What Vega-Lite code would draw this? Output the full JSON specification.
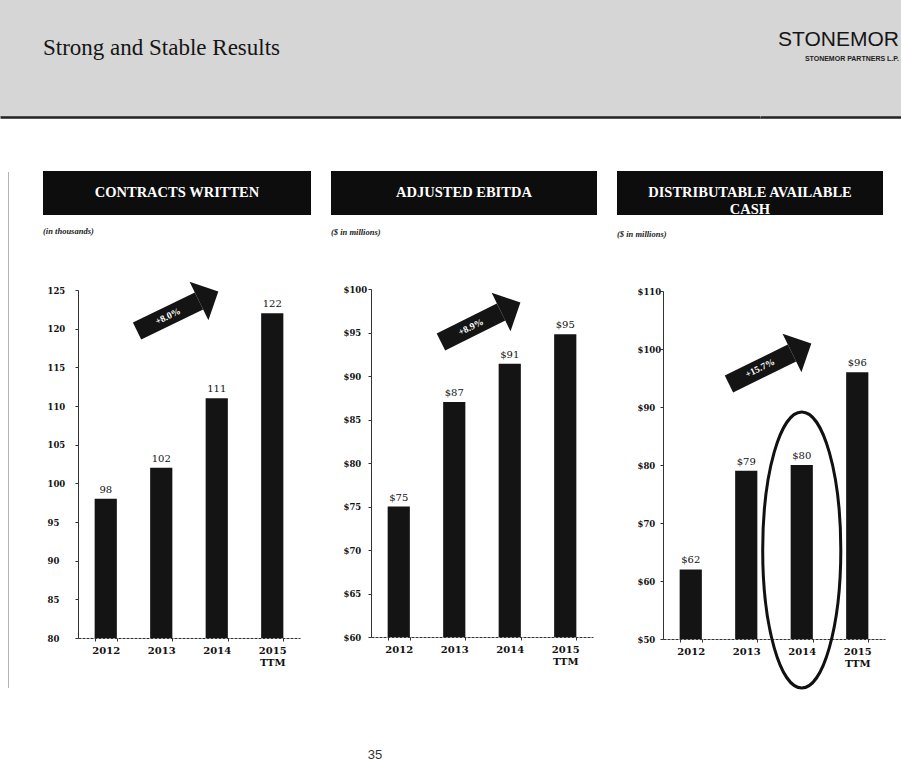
{
  "$schema": "https://vega.github.io/schema/vega-lite/v6.json",
  "padding": 0,
  "background": "white",
  "spacing": 54,
  "config": {
    "view": {"stroke": null},
    "axis": {"labelFont": "DejaVu Serif", "labelFontWeight": "bold", "labelColor": "#111", "domainColor": "#333", "tickColor": "#333", "tickSize": 3, "grid": false, "title": null, "labelOverlap": false},
    "axisX": {"labelFontSize": 10, "labelPadding": 4, "labelAngle": 0, "tickBand": "extent", "domainDash": [3, 1]},
    "axisY": {"labelFontSize": 8.5, "labelAlign": "left"},
    "title": {"font": "Liberation Serif", "color": "#111"}
  },
  "vconcat": [
    {
      "spacing": 0,
      "hconcat": [
        {
          "width": 760, "height": 117,
          "view": {"fill": "#d6d6d6", "stroke": null},
          "title": {"text": "Strong and Stable Results", "anchor": "start", "frame": "group", "dx": 43, "offset": -60, "fontSize": 23, "fontWeight": "normal", "font": "Liberation Serif", "color": "#151515"},
          "data": {"values": [{}]},
          "mark": {"type": "text"},
          "encoding": {
            "x": {"datum": 0, "type": "quantitative", "scale": {"domain": [0, 1]}, "axis": {"labels": false, "ticks": false, "domainWidth": 2.5, "domainColor": "#222", "domainDash": []}},
            "text": {"value": ""}
          }
        },
        {
          "width": 141, "height": 117,
          "view": {"fill": "#d6d6d6", "stroke": null},
          "title": {"text": "STONEMOR", "subtitle": "STONEMOR PARTNERS L.P.", "anchor": "end", "frame": "group", "dx": -2, "offset": -62, "fontSize": 21, "fontWeight": "normal", "font": "Liberation Sans", "color": "#151515", "subtitleFont": "Liberation Sans", "subtitleFontSize": 7, "subtitleFontWeight": "bold", "subtitleColor": "#222", "subtitlePadding": 5},
          "data": {"values": [{}]},
          "mark": {"type": "text"},
          "encoding": {
            "x": {"datum": 0, "type": "quantitative", "scale": {"domain": [0, 1]}, "axis": {"labels": false, "ticks": false, "domainWidth": 2.5, "domainColor": "#222", "domainDash": []}},
            "text": {"value": ""}
          }
        }
      ]
    },
    {
      "spacing": 20,
      "hconcat": [
        {
          "width": 23, "height": 516,
          "data": {"values": [{}]},
          "mark": {"type": "text"},
          "encoding": {
            "y": {"datum": 0, "type": "quantitative", "scale": {"domain": [0, 1]}, "axis": {"labels": false, "ticks": false, "offset": -8, "domainColor": "#666", "domainDash": [1, 1], "domainWidth": 1}},
            "text": {"value": ""}
          }
        },
        {
          "spacing": 12,
          "vconcat": [
            {
              "width": 268, "height": 44,
              "view": {"fill": "#0d0d0d", "stroke": null},
              "data": {"values": [{"label": "CONTRACTS WRITTEN"}]},
              "mark": {"type": "text", "color": "white", "font": "Liberation Serif", "fontWeight": "bold", "fontSize": 14.5},
              "encoding": {"text": {"field": "label"}}
            },
            {
              "width": 257, "height": 348,
              "title": {"text": "(in thousands)", "anchor": "start", "frame": "group", "offset": 46, "fontSize": 8.5, "fontStyle": "italic", "fontWeight": "bold", "color": "#222"},
              "data": {"values": [
                {"year": "2012", "value": 98},
                {"year": "2013", "value": 102},
                {"year": "2014", "value": 111},
                {"year": "2015 TTM", "value": 122}
              ]},
              "layer": [
                {
                  "mark": {"type": "bar", "color": "#141414"},
                  "encoding": {
                    "x": {"field": "year", "type": "nominal", "scale": {"domain": ["2012", "2013", "2014", "2015 TTM"], "range": [35, 257], "paddingInner": 0.6, "paddingOuter": 0.3}, "axis": {"labelExpr": "datum.value == '2015 TTM' ? ['2015', 'TTM'] : datum.value"}},
                    "y": {"field": "value", "type": "quantitative", "scale": {"domain": [80, 125], "nice": false, "zero": false}, "axis": {"values": [80, 85, 90, 95, 100, 105, 110, 115, 120, 125], "tickCount": 10, "format": "d", "labelPadding": 28, "offset": -35, "labelOverlap": false, "labelSeparation": 0, "labelBound": false}},
                    "y2": {"datum": 80}
                  }
                },
                {
                  "mark": {"type": "text", "baseline": "bottom", "dy": -4, "font": "DejaVu Serif", "fontSize": 10, "color": "#111"},
                  "encoding": {
                    "x": {"field": "year", "type": "nominal"},
                    "y": {"field": "value", "type": "quantitative"},
                    "text": {"field": "value", "type": "quantitative", "format": "d"}
                  }
                },
                {
                  "data": {"values": [{}]},
                  "mark": {"type": "rule", "color": "#141414", "strokeWidth": 19, "strokeCap": "butt"},
                  "encoding": {
                    "x": {"datum": "2013", "type": "nominal", "bandPosition": -0.59},
                    "y": {"datum": 119.7, "type": "quantitative"},
                    "x2": {"datum": "2014", "bandPosition": -0.3},
                    "y2": {"datum": 123.58}
                  }
                },
                {
                  "data": {"values": [{}]},
                  "mark": {"type": "point", "shape": "M1,0L0,-1L0,1Z", "size": 1849, "angle": 334, "filled": true, "opacity": 1, "color": "#141414"},
                  "encoding": {
                    "x": {"datum": "2014", "type": "nominal", "bandPosition": -0.3},
                    "y": {"datum": 123.58, "type": "quantitative"}
                  }
                },
                {
                  "data": {"values": [{}]},
                  "mark": {"type": "text", "angle": 334, "color": "white", "fontWeight": "bold", "fontSize": 9.5, "font": "Liberation Serif"},
                  "encoding": {
                    "x": {"datum": "2013", "type": "nominal", "bandPosition": 0.8},
                    "y": {"datum": 121.6, "type": "quantitative"},
                    "text": {"value": "+8.0%"}
                  }
                }
              ]
            }
          ]
        },
        {
          "spacing": 12,
          "vconcat": [
            {
              "width": 266, "height": 44,
              "view": {"fill": "#0d0d0d", "stroke": null},
              "data": {"values": [{"label": "ADJUSTED EBITDA"}]},
              "mark": {"type": "text", "color": "white", "font": "Liberation Serif", "fontWeight": "bold", "fontSize": 14.5},
              "encoding": {"text": {"field": "label"}}
            },
            {
              "width": 262, "height": 348,
              "title": {"text": "($ in millions)", "anchor": "start", "frame": "group", "offset": 49, "fontSize": 8.5, "fontStyle": "italic", "fontWeight": "bold", "color": "#222"},
              "data": {"values": [
                {"year": "2012", "value": 75},
                {"year": "2013", "value": 87},
                {"year": "2014", "value": 91.4},
                {"year": "2015 TTM", "value": 94.8}
              ]},
              "layer": [
                {
                  "mark": {"type": "bar", "color": "#141414"},
                  "encoding": {
                    "x": {"field": "year", "type": "nominal", "scale": {"domain": ["2012", "2013", "2014", "2015 TTM"], "range": [40, 262], "paddingInner": 0.6, "paddingOuter": 0.3}, "axis": {"labelExpr": "datum.value == '2015 TTM' ? ['2015', 'TTM'] : datum.value"}},
                    "y": {"field": "value", "type": "quantitative", "scale": {"domain": [60, 100], "nice": false, "zero": false}, "axis": {"values": [60, 65, 70, 75, 80, 85, 90, 95, 100], "format": "$d", "labelPadding": 25, "offset": -40, "labelOverlap": false}},
                    "y2": {"datum": 60}
                  }
                },
                {
                  "mark": {"type": "text", "baseline": "bottom", "dy": -4, "font": "DejaVu Serif", "fontSize": 10, "color": "#111"},
                  "encoding": {
                    "x": {"field": "year", "type": "nominal"},
                    "y": {"field": "value", "type": "quantitative"},
                    "text": {"field": "value", "type": "quantitative", "format": "$.0f"}
                  }
                },
                {
                  "data": {"values": [{}]},
                  "mark": {"type": "rule", "color": "#141414", "strokeWidth": 19, "strokeCap": "butt"},
                  "encoding": {
                    "x": {"datum": "2013", "type": "nominal", "bandPosition": -0.1},
                    "y": {"datum": 93.9, "type": "quantitative"},
                    "x2": {"datum": "2014", "bandPosition": 0.11},
                    "y2": {"datum": 97.36}
                  }
                },
                {
                  "data": {"values": [{}]},
                  "mark": {"type": "point", "shape": "M1,0L0,-1L0,1Z", "size": 1849, "angle": 334, "filled": true, "opacity": 1, "color": "#141414"},
                  "encoding": {
                    "x": {"datum": "2014", "type": "nominal", "bandPosition": 0.11},
                    "y": {"datum": 97.36, "type": "quantitative"}
                  }
                },
                {
                  "data": {"values": [{}]},
                  "mark": {"type": "text", "angle": 334, "color": "white", "fontWeight": "bold", "fontSize": 9.5, "font": "Liberation Serif"},
                  "encoding": {
                    "x": {"datum": "2013", "type": "nominal", "bandPosition": 1.25},
                    "y": {"datum": 95.63, "type": "quantitative"},
                    "text": {"value": "+8.9%"}
                  }
                }
              ]
            }
          ]
        },
        {
          "spacing": 12,
          "vconcat": [
            {
              "width": 266, "height": 44,
              "view": {"fill": "#0d0d0d", "stroke": null},
              "data": {"values": [{"label": ["DISTRIBUTABLE AVAILABLE", "CASH"]}]},
              "mark": {"type": "text", "color": "white", "font": "Liberation Serif", "fontWeight": "bold", "fontSize": 14.5, "lineHeight": 17},
              "encoding": {"text": {"field": "label"}}
            },
            {
              "width": 268, "height": 348,
              "title": {"text": "($ in millions)", "anchor": "start", "frame": "group", "offset": 49, "fontSize": 8.5, "fontStyle": "italic", "fontWeight": "bold", "color": "#222"},
              "data": {"values": [
                {"year": "2012", "value": 62},
                {"year": "2013", "value": 79},
                {"year": "2014", "value": 80},
                {"year": "2015 TTM", "value": 96}
              ]},
              "layer": [
                {
                  "mark": {"type": "bar", "color": "#141414"},
                  "encoding": {
                    "x": {"field": "year", "type": "nominal", "scale": {"domain": ["2012", "2013", "2014", "2015 TTM"], "range": [46, 268], "paddingInner": 0.6, "paddingOuter": 0.3}, "axis": {"labelExpr": "datum.value == '2015 TTM' ? ['2015', 'TTM'] : datum.value"}},
                    "y": {"field": "value", "type": "quantitative", "scale": {"domain": [50, 110], "nice": false, "zero": false}, "axis": {"values": [50, 60, 70, 80, 90, 100, 110], "format": "$d", "labelPadding": 23, "offset": -46, "labelOverlap": false}},
                    "y2": {"datum": 50}
                  }
                },
                {
                  "mark": {"type": "text", "baseline": "bottom", "dy": -4, "font": "DejaVu Serif", "fontSize": 10, "color": "#111"},
                  "encoding": {
                    "x": {"field": "year", "type": "nominal"},
                    "y": {"field": "value", "type": "quantitative"},
                    "text": {"field": "value", "type": "quantitative", "format": "$.0f"}
                  }
                },
                {
                  "data": {"values": [{}]},
                  "mark": {"type": "rule", "color": "#141414", "strokeWidth": 19, "strokeCap": "butt"},
                  "encoding": {
                    "x": {"datum": "2013", "type": "nominal", "bandPosition": -0.28},
                    "y": {"datum": 93.97, "type": "quantitative"},
                    "x2": {"datum": "2014", "bandPosition": 0.06},
                    "y2": {"datum": 99.31}
                  }
                },
                {
                  "data": {"values": [{}]},
                  "mark": {"type": "point", "shape": "M1,0L0,-1L0,1Z", "size": 1849, "angle": 334, "filled": true, "opacity": 1, "color": "#141414"},
                  "encoding": {
                    "x": {"datum": "2014", "type": "nominal", "bandPosition": 0.06},
                    "y": {"datum": 99.31, "type": "quantitative"}
                  }
                },
                {
                  "data": {"values": [{}]},
                  "mark": {"type": "text", "angle": 334, "color": "white", "fontWeight": "bold", "fontSize": 9.5, "font": "Liberation Serif"},
                  "encoding": {
                    "x": {"datum": "2013", "type": "nominal", "bandPosition": 1.12},
                    "y": {"datum": 96.72, "type": "quantitative"},
                    "text": {"value": "+15.7%"}
                  }
                },
                {
                  "data": {"values": [{}]},
                  "mark": {"type": "point", "shape": "M0,-1C0.156,-1,0.283,-0.552,0.283,0C0.283,0.552,0.156,1,0,1C-0.156,1,-0.283,0.552,-0.283,0C-0.283,-0.552,-0.156,-1,0,-1Z", "size": 76176, "filled": false, "opacity": 1, "color": "#111", "strokeWidth": 3},
                  "encoding": {
                    "x": {"datum": "2014", "type": "nominal"},
                    "y": {"datum": 65.34, "type": "quantitative"}
                  }
                }
              ]
            }
          ]
        }
      ]
    },
    {
      "width": 750, "height": 12,
      "data": {"values": [{"page": "35"}]},
      "mark": {"type": "text", "font": "Liberation Sans", "fontSize": 13, "color": "#333"},
      "encoding": {"text": {"field": "page"}}
    }
  ]
}
